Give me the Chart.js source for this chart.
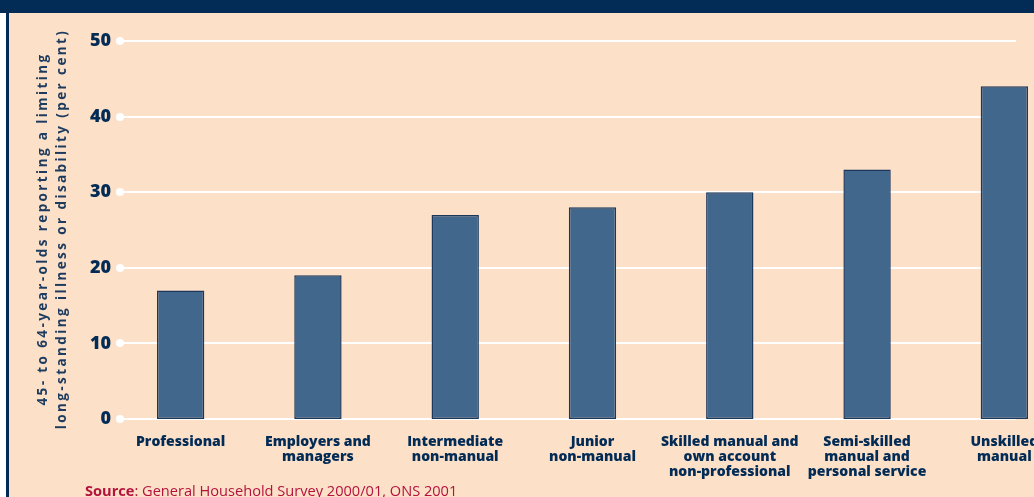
<!DOCTYPE html>
<html>
<head>
<meta charset="utf-8">
<script src="https://cdn.jsdelivr.net/npm/chart.js@4/dist/chart.umd.min.js"></script>
<style>
  html, body { margin: 0; padding: 0; background: #fff; overflow: hidden; }
  #wrap { position: relative; width: 1080px; height: 497px; }
</style>
</head>
<body>
<div id="wrap"><canvas id="illnessChart" width="1080" height="497"></canvas></div>
<script>
// Socio-economic groups (multi-line labels)
var groups = [
    ['Professional'],
    ['Employers and', 'managers'],
    ['Intermediate', 'non-manual'],
    ['Junior', 'non-manual'],
    ['Skilled manual and', 'own account', 'non-professional'],
    ['Semi-skilled', 'manual and', 'personal service'],
    ['Unskilled', 'manual']
];
// per cent reporting a limiting long-standing illness or disability
var percentages = [17, 19, 27, 28, 30, 33, 44];
var yTicks = [0, 10, 20, 30, 40, 50];
var titleLines = ['45- to 64-year-olds reporting a limiting', 'long-standing illness or disability (per cent)'];

var NAVY = '#022b55';
var PEACH = '#fde0c8';

// panel background, navy frame, white grid lines with dots, axis title and source line
var panelPlugin = {
    id: 'panel',
    beforeDraw: function (chart) {
        var ctx = chart.ctx;
        ctx.save();
        ctx.fillStyle = '#ffffff';
        ctx.fillRect(0, 0, chart.width, chart.height);
        ctx.fillStyle = PEACH;
        ctx.fillRect(9, 13, chart.width, chart.height);
        ctx.fillStyle = NAVY;
        ctx.fillRect(0, 0, chart.width, 13);
        ctx.fillRect(6, 0, 3, chart.height);
        ctx.restore();
    },
    beforeDatasetsDraw: function (chart) {
        var ctx = chart.ctx;
        var y = chart.scales.y;
        ctx.save();
        ctx.strokeStyle = '#ffffff';
        ctx.fillStyle = '#ffffff';
        ctx.lineWidth = 2;
        yTicks.forEach(function (v) {
            var py = Math.round(y.getPixelForValue(v));
            ctx.beginPath();
            ctx.moveTo(120, py);
            ctx.lineTo(1016, py);
            ctx.stroke();
            ctx.beginPath();
            ctx.arc(120, py, 4, 0, Math.PI * 2);
            ctx.fill();
        });
        ctx.restore();
    },
    afterDraw: function (chart) {
        var ctx = chart.ctx;
        ctx.save();
        ctx.translate(43, 229);
        ctx.rotate(-Math.PI / 2);
        ctx.fillStyle = '#1c3b5e';
        ctx.font = 'bold 13.5px "Open Sans"';
        ctx.letterSpacing = '2.4px';
        ctx.textAlign = 'center';
        ctx.textBaseline = 'middle';
        ctx.fillText(titleLines[0], 0, 0);
        ctx.fillText(titleLines[1], 0, 19);
        ctx.restore();

        ctx.save();
        ctx.textBaseline = 'alphabetic';
        ctx.fillStyle = '#b3123d';
        ctx.font = 'bold 14.6px "Open Sans"';
        ctx.fillText('Source', 85, 496);
        var w = ctx.measureText('Source').width;
        ctx.font = '14.6px "Open Sans"';
        ctx.fillText(': General Household Survey 2000/01, ONS 2001', 85 + w, 496);
        ctx.restore();
    }
};

var ctx = document.getElementById('illnessChart').getContext('2d');
new Chart(ctx, {
    type: 'bar',
    data: {
        labels: groups,
        datasets: [{
            data: percentages,
            backgroundColor: '#42678d',
            borderColor: '#1b375c',
            borderWidth: 1.5,
            borderSkipped: false,
            categoryPercentage: 1,
            barPercentage: 0.345
        }]
    },
    options: {
        responsive: false,
        animation: false,
        events: [],
        layout: { padding: { left: 52, right: 7, top: 41, bottom: 18 } },
        plugins: {
            legend: { display: false },
            tooltip: { enabled: false }
        },
        scales: {
            x: {
                grid: { display: false, drawTicks: false },
                border: { display: false },
                ticks: {
                    color: NAVY,
                    font: { family: '"Open Sans"', weight: '800', size: 14, lineHeight: 1.1 },
                    padding: 15,
                    maxRotation: 0,
                    autoSkip: false
                },
                afterFit: function (scale) { scale.height = 60; }
            },
            y: {
                min: 0,
                max: 50,
                grid: { display: false, drawTicks: false },
                border: { display: false },
                afterBuildTicks: function (scale) {
                    scale.ticks = yTicks.map(function (v) { return { value: v }; });
                },
                ticks: {
                    color: NAVY,
                    font: { family: '"Open Sans"', weight: '800', size: 18 },
                    padding: 1
                },
                afterFit: function (scale) { scale.width = 60; }
            }
        }
    },
    plugins: [panelPlugin]
});
</script>
</body>
</html>
